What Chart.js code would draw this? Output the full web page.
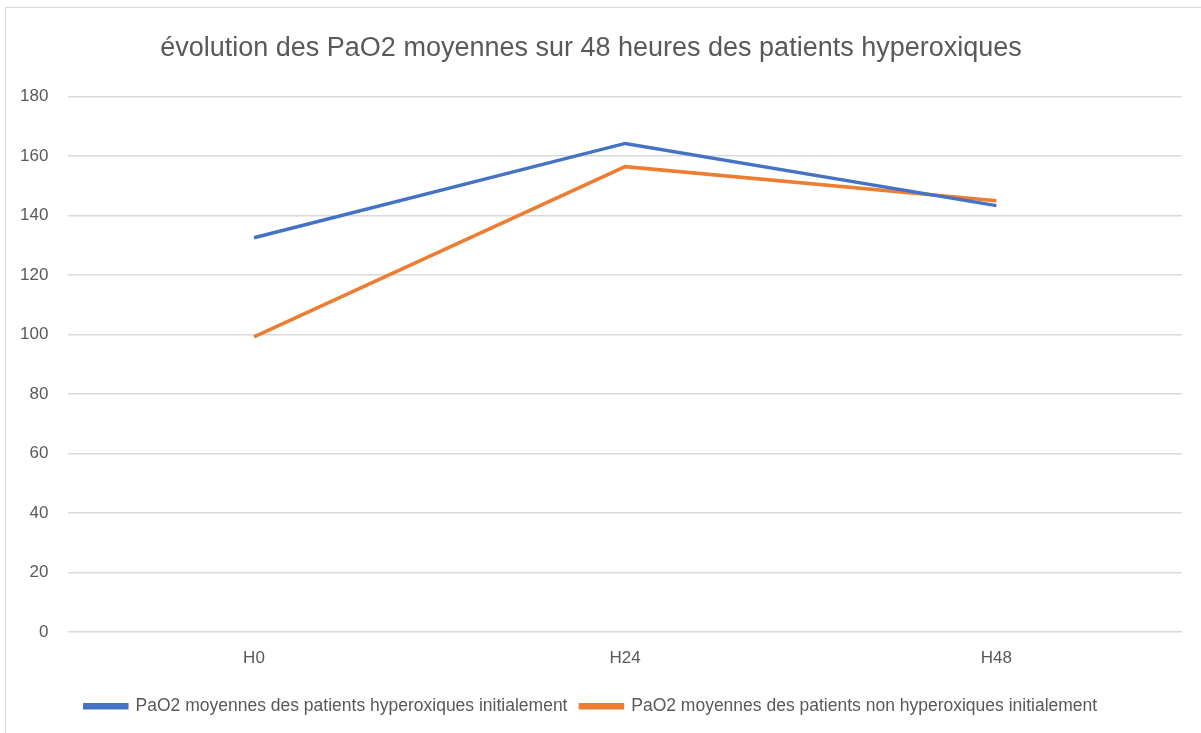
<!DOCTYPE html>
<html>
<head>
<meta charset="utf-8">
<script src="https://cdn.jsdelivr.net/npm/chart.js@4.4.0/dist/chart.umd.min.js"></script>
<style>
  html, body { margin: 0; padding: 0; background: #fff; }
  #frame {
    position: absolute; left: 5px; top: 7px; width: 1220px; height: 760px;
    border: 1px solid #d9d9d9; box-sizing: border-box;
  }
  #wrap { position: absolute; left: 0; top: 0; width: 1201px; height: 733px; }
</style>
</head>
<body>
<div id="frame"></div>
<div id="wrap"><canvas id="paoChart"></canvas></div>
<script>
const categories = ['H0', 'H24', 'H48'];
const hyperoxiques = [132.5, 164.2, 143.3];
const nonHyperoxiques = [99.2, 156.4, 144.9];
const yTicks = [0, 20, 40, 60, 80, 100, 120, 140, 160, 180];

const fontFamily = "'Liberation Sans', sans-serif";
const grey = '#595959';

const ctx = document.getElementById('paoChart').getContext('2d');
new Chart(ctx, {
    type: 'line',
    data: {
        labels: categories,
        datasets: [{
            label: 'PaO2 moyennes des patients hyperoxiques initialement',
            data: hyperoxiques,
            borderColor: '#4472C4',
            backgroundColor: '#4472C4',
            borderWidth: 3.5,
            pointRadius: 0,
            tension: 0
        }, {
            label: 'PaO2 moyennes des patients non hyperoxiques initialement',
            data: nonHyperoxiques,
            borderColor: '#ED7D31',
            backgroundColor: '#ED7D31',
            borderWidth: 3.5,
            pointRadius: 0,
            tension: 0
        }]
    },
    options: {
        responsive: true,
        maintainAspectRatio: false,
        animation: false,
        layout: { padding: { left: 0, right: 19, top: 32, bottom: 8 } },
        plugins: {
            title: {
                display: true,
                text: 'évolution des PaO2 moyennes sur 48 heures des patients hyperoxiques',
                color: grey,
                font: { family: fontFamily, size: 27, weight: 'normal' },
                padding: { top: 0, bottom: 32 }
            },
            legend: {
                position: 'bottom',
                labels: {
                    color: grey,
                    font: { family: fontFamily, size: 17.5 },
                    boxWidth: 42,
                    boxHeight: 3,
                    padding: 13
                }
            },
            tooltip: { enabled: false }
        },
        scales: {
            x: {
                offset: true,
                grid: { display: false, drawTicks: false },
                border: { display: false },
                ticks: { color: grey, font: { family: fontFamily, size: 17 }, padding: 16 }
            },
            y: {
                min: 0,
                max: 180,
                afterBuildTicks: axis => { axis.ticks = yTicks.map(v => ({ value: v })); },
                grid: { color: '#d9d9d9', lineWidth: 1.5, drawTicks: false },
                border: { display: false },
                ticks: { color: grey, font: { family: fontFamily, size: 17 }, padding: 20 }
            }
        }
    }
});
</script>
</body>
</html>
